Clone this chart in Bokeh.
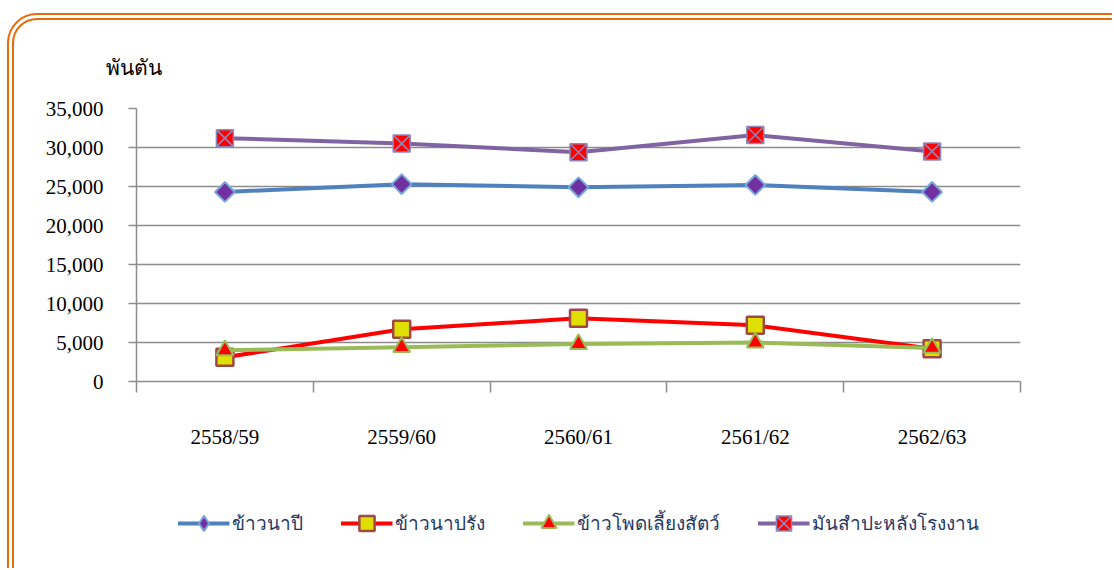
from bokeh.plotting import figure
from bokeh.layouts import column
from bokeh.models import (Range1d, FixedTicker, NumeralTickFormatter, Legend, LegendItem,
                          InlineStyleSheet)
from bokeh.embed import file_html
from bokeh.resources import INLINE

# ---- data ----
years = ["2558/59", "2559/60", "2560/61", "2561/62", "2562/63"]
rice_main = [24300, 25300, 24900, 25200, 24300]       # ข้าวนาปี
rice_second = [3100, 6700, 8100, 7200, 4200]          # ข้าวนาปรัง
maize = [4000, 4400, 4800, 5000, 4300]                # ข้าวโพดเลี้ยงสัตว์
cassava = [31200, 30500, 29400, 31600, 29500]         # มันสำปะหลังโรงงาน
y_ticks = [0, 5000, 10000, 15000, 20000, 25000, 30000, 35000]
unit_label = "พันตัน"
series_names = ["ข้าวนาปี", "ข้าวนาปรัง", "ข้าวโพดเลี้ยงสัตว์", "มันสำปะหลังโรงงาน"]

xs = [i + 0.5 for i in range(len(years))]

W, H = 1112, 568
H1 = 478
H2 = H - H1
FL, FT, FW, FH = 136, 108, 884, 273

serif = "Liberation Serif"
gray = "#8c8c8c"

styles = dict(
    rice_main=dict(line="#4f81bd", marker="square", angle=0.785398, size=14,
                   fill="#7030a0", edge="#7aa7dc", ew=2,
                   lmarker="diamond", lsize=21),
    rice_second=dict(line="#ff0000", marker="square", angle=0.0, size=17,
                     fill="#e0e000", edge="#a04848", ew=2.5,
                     lmarker="square", lsize=17),
    maize=dict(line="#9bbb59", marker="triangle", angle=0.0, size=17,
               fill="#ff0000", edge="#9bbb59", ew=2,
               lmarker="triangle", lsize=17),
    cassava=dict(line="#8064a2", marker="square_x", angle=0.0, size=17,
                 fill="#ff0000", edge="#8e88bc", ew=1.5,
                 lmarker="square_x", lsize=17),
)

p = figure(width=W, height=H1, output_backend="svg", toolbar_location=None,
           x_range=Range1d(0, len(years)), y_range=Range1d(0, 35000),
           min_border_left=FL, min_border_right=W - FL - FW,
           min_border_top=FT, min_border_bottom=H1 - FT - FH)
p.outline_line_color = None
p.background_fill_color = None
p.border_fill_color = None

# unit label as title
p.title.text = unit_label
p.title.align = "left"
p.title.offset = -31
p.title.standoff = 57
p.title.text_font = serif
p.title.text_font_size = "21px"
p.title.text_font_style = "normal"
p.title.text_color = "#000000"

# x axis
xa = p.xaxis[0]
xa.ticker = FixedTicker(ticks=xs, minor_ticks=list(range(len(years) + 1)))
xa.major_label_overrides = {x: y for x, y in zip(xs, years)}
xa.major_tick_out = 0
xa.major_tick_in = 0
xa.minor_tick_out = 11
xa.minor_tick_in = 0
xa.minor_tick_line_color = gray
xa.minor_tick_line_width = 1.5
xa.axis_line_color = gray
xa.axis_line_width = 1.5
xa.major_label_standoff = 32
xa.major_label_text_font = serif
xa.major_label_text_font_size = "21px"
xa.major_label_text_color = "#000000"

ya = p.yaxis[0]
ya.ticker = FixedTicker(ticks=y_ticks, minor_ticks=[])
ya.formatter = NumeralTickFormatter(format="0,0")
ya.major_tick_out = 8
ya.major_tick_in = 0
ya.major_tick_line_color = gray
ya.major_tick_line_width = 1.5
ya.axis_line_color = gray
ya.axis_line_width = 1.5
ya.major_label_standoff = 25
ya.major_label_text_font = serif
ya.major_label_text_font_size = "21px"
ya.major_label_text_color = "#000000"

p.xgrid.visible = False
p.ygrid.ticker = FixedTicker(ticks=y_ticks[1:])
p.ygrid.grid_line_color = gray
p.ygrid.grid_line_width = 1.5

# ---- series (draw order: rice_main, cassava, rice_second, maize) ----
series = dict(rice_main=rice_main, rice_second=rice_second, maize=maize, cassava=cassava)
for key in ["rice_main", "cassava", "rice_second", "maize"]:
    s = styles[key]
    p.line(xs, series[key], line_color=s["line"], line_width=4)
    p.scatter(xs, series[key], marker=s["marker"], angle=s["angle"], size=s["size"],
              fill_color=s["fill"], line_color=s["edge"], line_width=s["ew"])

# ---- legend strip (a second figure holding only the legend) ----
q = figure(width=W, height=H2, output_backend="svg", toolbar_location=None,
           x_range=Range1d(0, 1), y_range=Range1d(0, 1), min_border=0,
           x_axis_type=None, y_axis_type=None)
q.outline_line_color = None
q.background_fill_color = None
q.border_fill_color = None
q.grid.visible = False
items = []
for key, name in zip(["rice_main", "rice_second", "maize", "cassava"], series_names):
    s = styles[key]
    # proxy glyphs placed outside the visible range, used only for legend swatches
    gl = q.line([-5, -4], [-5, -4], line_color=s["line"], line_width=4)
    gm = q.scatter([-5], [-5], marker=s["lmarker"], size=s["lsize"],
                   fill_color=s["fill"], line_color=s["edge"], line_width=s["ew"])
    items.append(LegendItem(label=name, renderers=[gl, gm]))

legend = Legend(items=items, orientation="horizontal", location="center",
                glyph_width=52, glyph_height=38, spacing=38, label_standoff=2,
                label_text_font=serif, label_text_font_size="19px",
                label_text_color="#1f3864", background_fill_alpha=0,
                border_line_color=None, padding=0, margin=0)
q.add_layout(legend, "center")

border_css = InlineStyleSheet(css="""
:host { position: relative; overflow: hidden; }
:host::after {
  content: '';
  position: absolute;
  left: 7px; top: 13px; right: -30px; bottom: -30px;
  border: 7px double #e46c0a;
  border-radius: 30px;
  pointer-events: none;
}
""")

layout = column(p, q, spacing=0, stylesheets=[border_css])

open("out.html", "w").write(file_html(layout, INLINE))
